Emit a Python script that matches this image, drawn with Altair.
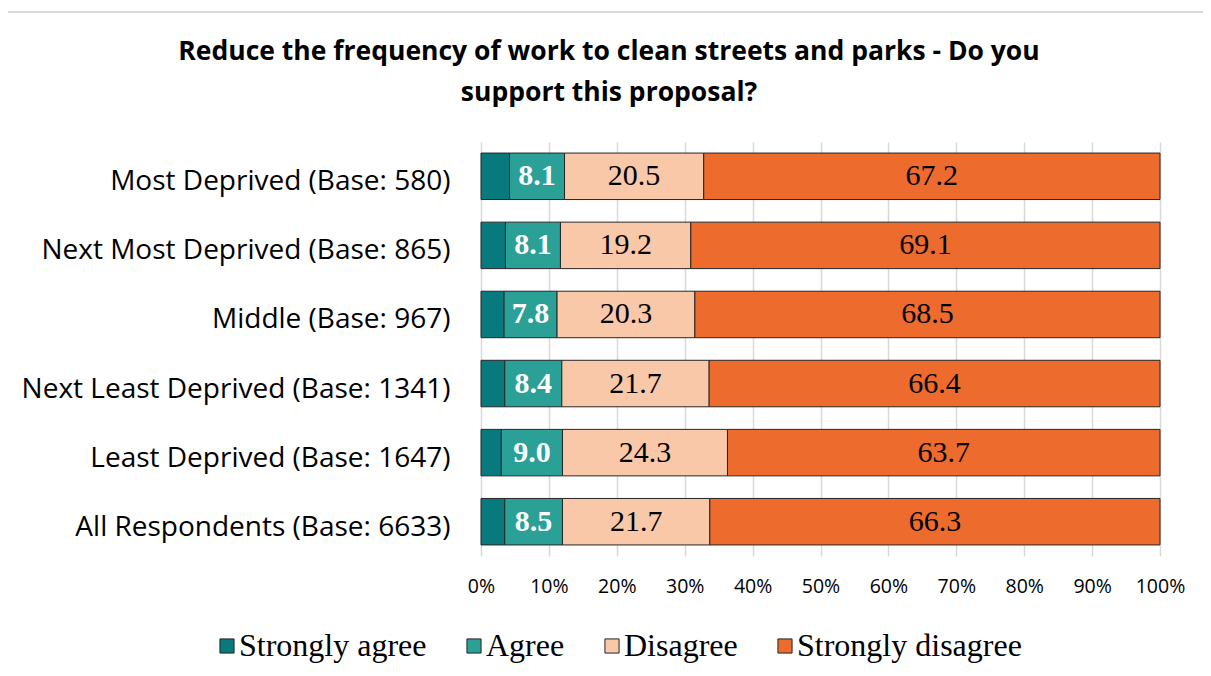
import altair as alt
import pandas as pd

groups = [
    "Most Deprived (Base: 580)",
    "Next Most Deprived (Base: 865)",
    "Middle (Base: 967)",
    "Next Least Deprived (Base: 1341)",
    "Least Deprived (Base: 1647)",
    "All Respondents (Base: 6633)",
]
responses = ["Strongly agree", "Agree", "Disagree", "Strongly disagree"]
strongly_agree = [4.2, 3.6, 3.4, 3.5, 3.0, 3.5]
agree = [8.1, 8.1, 7.8, 8.4, 9.0, 8.5]
disagree = [20.5, 19.2, 20.3, 21.7, 24.3, 21.7]
strongly_disagree = [67.2, 69.1, 68.5, 66.4, 63.7, 66.3]
colors = ["#087A7D", "#2AA096", "#F9C8A9", "#EC6B2D"]
x_ticks = [0, 10, 20, 30, 40, 50, 60, 70, 80, 90, 100]
title_lines = [
    "Reduce the frequency of work to clean streets and parks - Do you",
    "support this proposal?",
]

rows = []
series = [strongly_agree, agree, disagree, strongly_disagree]
for i, g in enumerate(groups):
    for j, r in enumerate(responses):
        rows.append({"group": g, "response": r, "order": j, "value": series[j][i]})
df = pd.DataFrame(rows)

base = (
    alt.Chart(df)
    .transform_stack(
        stack="value",
        groupby=["group"],
        as_=["x0", "x1"],
        sort=[alt.SortField("order", order="ascending")],
    )
    .transform_calculate(mid="(datum.x0 + datum.x1) / 2")
)

yenc = alt.Y(
    "group:N",
    sort=groups,
    title=None,
    scale=alt.Scale(paddingInner=0.327, paddingOuter=0.16),
    axis=alt.Axis(
        labelFont="Open Sans",
        labelFontSize=28,
        labelColor="black",
        labelPadding=31,
        labelLimit=0,
        ticks=False,
        domain=False,
        labelOffset=6,
    ),
)
xscale = alt.Scale(domain=[0, 100])

bars = base.mark_bar(stroke="#262626", strokeWidth=1).encode(
    x=alt.X(
        "x0:Q",
        scale=xscale,
        title=None,
        axis=alt.Axis(
            values=x_ticks,
            labelExpr="datum.value + '%'",
            labelFont="Open Sans",
            labelFontSize=19.5,
            labelColor="black",
            labelPadding=21,
            labelFlush=False,
            ticks=False,
            domain=False,
            grid=True,
            gridColor="#D9D9D9",
            gridWidth=1.5,
        ),
    ),
    x2="x1:Q",
    y=yenc,
    color=alt.Color(
        "response:N",
        scale=alt.Scale(domain=responses, range=colors),
        legend=alt.Legend(
            title=None,
            orient="none",
            legendX=-270,
            legendY=488,
            direction="horizontal",
            symbolType="square",
            symbolSize=200,
            symbolStrokeColor="#262626",
            symbolStrokeWidth=1,
            labelFont="Liberation Serif",
            labelFontSize=32,
            labelColor="black",
            columnPadding=31,
            labelOffset={"expr": "-4"},
            labelLimit=0,
        ),
    ),
)

text_agree = (
    base.transform_filter(alt.datum.response == "Agree")
    .mark_text(font="Liberation Serif", fontSize=30, fontWeight="bold", color="white")
    .encode(
        x=alt.X("mid:Q", scale=xscale),
        y=alt.Y("group:N", sort=groups),
        text=alt.Text("value:Q", format=".1f"),
    )
)

text_dis = (
    base.transform_filter(alt.datum.order >= 2)
    .mark_text(font="Liberation Serif", fontSize=30, color="black")
    .encode(
        x=alt.X("mid:Q", scale=xscale),
        y=alt.Y("group:N", sort=groups),
        text=alt.Text("value:Q", format=".1f"),
    )
)

one = pd.DataFrame({"f": [0]})

frame = (
    alt.Chart(one)
    .mark_rect(fillOpacity=0, stroke="#D9D9D9", strokeWidth=2)
    .encode(
        x=alt.value(-474),
        x2=alt.value(760),
        y=alt.value(-130),
        y2=alt.value(560),
    )
)

title1 = (
    alt.Chart(one)
    .mark_text(font="Open Sans", fontSize=26.5, fontWeight="bold", color="black")
    .encode(x=alt.value(128), y=alt.value(-90), text=alt.value(title_lines[0]))
)
title2 = (
    alt.Chart(one)
    .mark_text(font="Open Sans", fontSize=26.5, fontWeight="bold", color="black")
    .encode(x=alt.value(128), y=alt.value(-49), text=alt.value(title_lines[1]))
)

chart = (
    alt.layer(frame, bars, text_agree, text_dis, title1, title2)
    .properties(
        width=679,
        height=414,
        autosize=alt.AutoSizeParams(type="none"),
        padding={"left": 473, "top": 134, "right": 43, "bottom": 112},
    )
    .configure_view(stroke="transparent")
)

chart.save("out.html", embed_options={"renderer": "svg", "actions": False})
